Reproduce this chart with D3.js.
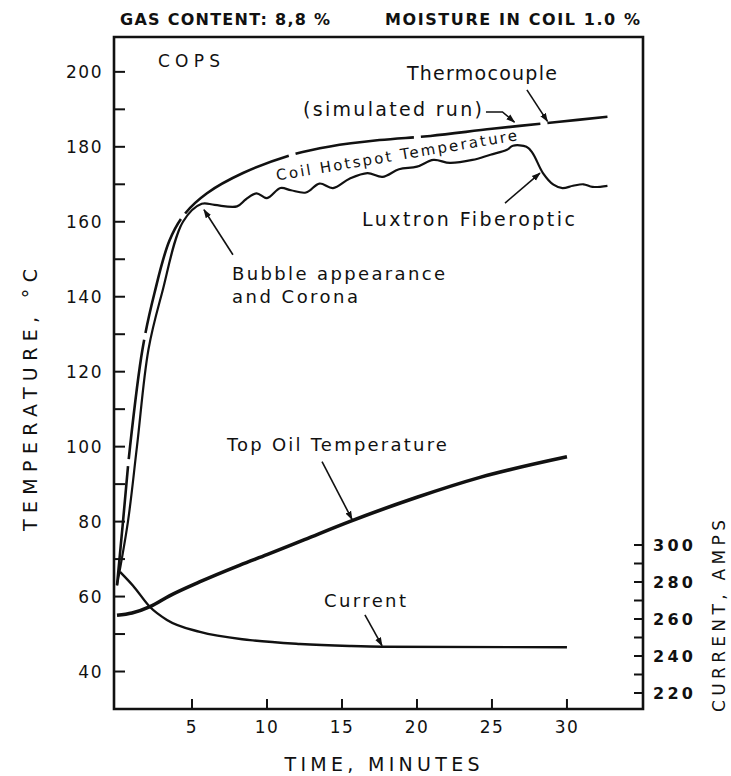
<!DOCTYPE html>
<html>
<head>
<meta charset="utf-8">
<script src="https://cdn.jsdelivr.net/npm/d3@7"></script>
<style>
  body { margin: 0; background: #fff; }
  text { font-family: "DejaVu Sans", "Liberation Sans", sans-serif; fill: #111; }
</style>
</head>
<body>
<div id="chart" style="width:731px;height:776px;"></div>
<script>
// values (time in minutes, temperature in °C, current in A)
const thermoTime = [0, 0.4, 0.87, 1.7, 2.5, 3.5, 4.5, 6.0, 8.4, 11.7, 14.2, 17.5, 20.9, 25, 29.5, 32.7];
const thermoTemp = [63, 80, 100, 126, 141, 155, 162, 167.6, 173, 177.9, 180.1, 181.8, 182.9, 184.8, 186.7, 188];

const luxTime = [0, 0.73, 1.33, 2.1, 3.0, 4.4, 5.65, 6.5, 8.0, 8.6, 9.3, 10.0, 10.9, 11.6, 12.6, 13.5, 14.4, 15.5, 16.7, 17.7, 18.8, 20.0, 21.1, 22.2, 23.7, 24.9, 26.0, 26.4, 27.3, 27.7, 28.4, 29.1, 29.7, 30.4, 31.1, 31.7, 32.7];
const luxTemp = [63, 80, 100, 126, 141, 160, 164.8, 164.5, 164.1, 166.0, 167.6, 166.3, 169.0, 168.4, 167.8, 170.2, 169.0, 171.5, 173.0, 172.0, 174.0, 174.7, 176.5, 175.7, 176.5, 177.9, 179.2, 180.3, 180.0, 178.4, 173.0, 169.9, 169.0, 169.6, 170.0, 169.3, 169.6];

const oilTime = [0, 1, 2.2, 3.5, 5.5, 8.2, 10, 12.5, 15.5, 20, 24.2, 30];
const oilTemp = [55, 55.6, 57.3, 60.2, 63.9, 68.4, 71.2, 75.2, 80.0, 86.5, 91.8, 97.3];

const curTime = [0.2, 1.07, 2.2, 3.33, 5.53, 8.87, 12.2, 15.5, 17.7, 30];
const curAmps = [285.5, 278, 266.5, 259.5, 253, 248.6, 246.5, 245.4, 245, 244.7];

const timeTicks = [5, 10, 15, 20, 25, 30];
const tempTicks = [40, 60, 80, 100, 120, 140, 160, 180, 200];
const tempMinor = [50, 70, 90, 110, 130, 150, 170, 190];
const ampTicks = [220, 240, 260, 280, 300];
const ampMinor = [230, 250, 270, 290];

const width = 731, height = 776;
const plotL = 114, plotR = 643, plotT = 37, plotB = 709;

const svg = d3.select("#chart").append("svg")
    .attr("width", width)
    .attr("height", height);

const x = d3.scaleLinear().domain([-0.2, 35.07]).range([plotL, plotR]);
const y = d3.scaleLinear().domain([30, 209.3]).range([plotB, plotT]);
const yAmp = d3.scaleLinear().domain([220, 300]).range([693, 545]);

// arrowhead
svg.append("defs").append("marker")
    .attr("id", "arrow")
    .attr("viewBox", "0 0 10 10")
    .attr("refX", 9).attr("refY", 5)
    .attr("markerWidth", 9).attr("markerHeight", 9)
    .attr("markerUnits", "userSpaceOnUse")
    .attr("orient", "auto")
  .append("path")
    .attr("d", "M0,1.5 L10,5 L0,8.5 Z")
    .attr("fill", "#111");

// frame: left axis, bottom axis, top and right borders
svg.append("path")
    .attr("d", `M${plotL},${plotT} L${plotR},${plotT} L${plotR},${plotB} L${plotL},${plotB} Z`)
    .attr("fill", "none")
    .attr("stroke", "#111")
    .attr("stroke-width", 2.6);

// temperature axis ticks (inside)
svg.selectAll(".ytick")
    .data(tempTicks.concat(tempMinor))
    .enter().append("line")
    .attr("x1", plotL).attr("x2", plotL + 11)
    .attr("y1", d => y(d)).attr("y2", d => y(d))
    .attr("stroke", "#111").attr("stroke-width", 2);

svg.selectAll(".ylab")
    .data(tempTicks)
    .enter().append("text")
    .attr("x", 103)
    .attr("y", d => y(d) + 6)
    .attr("text-anchor", "end")
    .attr("font-size", 17)
    .attr("letter-spacing", 1.5)
    .text(d => d);

// time axis ticks
svg.selectAll(".xtick")
    .data(timeTicks)
    .enter().append("line")
    .attr("x1", d => x(d)).attr("x2", d => x(d))
    .attr("y1", plotB).attr("y2", plotB - 10)
    .attr("stroke", "#111").attr("stroke-width", 2);

svg.selectAll(".xlab")
    .data(timeTicks)
    .enter().append("text")
    .attr("x", d => x(d))
    .attr("y", 733)
    .attr("text-anchor", "middle")
    .attr("font-size", 17)
    .attr("letter-spacing", 1.5)
    .text(d => d);

// current axis on the right
svg.selectAll(".atick")
    .data(ampTicks.concat(ampMinor))
    .enter().append("line")
    .attr("x1", plotR - 9).attr("x2", plotR)
    .attr("y1", d => yAmp(d)).attr("y2", d => yAmp(d))
    .attr("stroke", "#111").attr("stroke-width", 2);

svg.selectAll(".alab")
    .data(ampTicks)
    .enter().append("text")
    .attr("x", 653)
    .attr("y", d => yAmp(d) + 6)
    .attr("font-size", 16)
    .attr("font-weight", "bold")
    .attr("textLength", 40)
    .text(d => d);

// axis titles
svg.append("text")
    .attr("transform", "translate(37,400) rotate(-90)")
    .attr("text-anchor", "middle")
    .attr("font-size", 19)
    .attr("textLength", 262)
    .text("TEMPERATURE, °C");

svg.append("text")
    .attr("transform", "translate(725,616) rotate(-90)")
    .attr("text-anchor", "middle")
    .attr("font-size", 17)
    .attr("textLength", 192)
    .text("CURRENT, AMPS");

svg.append("text")
    .attr("x", 382).attr("y", 771)
    .attr("text-anchor", "middle")
    .attr("font-size", 19)
    .attr("textLength", 195)
    .text("TIME, MINUTES");

svg.append("text")
    .attr("x", 120).attr("y", 25)
    .attr("font-size", 16).attr("font-weight", "bold")
    .attr("textLength", 210)
    .text("GAS CONTENT: 8,8 %");

svg.append("text")
    .attr("x", 385).attr("y", 25)
    .attr("font-size", 16).attr("font-weight", "bold")
    .attr("textLength", 255)
    .text("MOISTURE IN COIL 1.0 %");

// curves
const tempLine = d3.line()
    .x(d => x(d[0]))
    .y(d => y(d[1]))
    .curve(d3.curveCatmullRom.alpha(0.5));

const smoothLine = d3.line()
    .x(d => x(d[0]))
    .y(d => y(d[1]))
    .curve(d3.curveMonotoneX);

const ampLine = d3.line()
    .x(d => x(d[0]))
    .y(d => yAmp(d[1]))
    .curve(d3.curveMonotoneX);

svg.append("path")
    .datum(d3.zip(thermoTime, thermoTemp))
    .attr("d", tempLine)
    .attr("fill", "none")
    .attr("stroke", "#111")
    .attr("stroke-width", 2.6)
    .attr("stroke-dasharray", "120,7");

svg.append("path")
    .datum(d3.zip(luxTime, luxTemp))
    .attr("d", tempLine)
    .attr("fill", "none")
    .attr("stroke", "#111")
    .attr("stroke-width", 2.2);

svg.append("path")
    .datum(d3.zip(oilTime, oilTemp))
    .attr("d", smoothLine)
    .attr("fill", "none")
    .attr("stroke", "#111")
    .attr("stroke-width", 3.6);

svg.append("path")
    .datum(d3.zip(curTime, curAmps))
    .attr("d", ampLine)
    .attr("fill", "none")
    .attr("stroke", "#111")
    .attr("stroke-width", 2.4);

// annotations
function label(t, temp, str, size, len) {
    svg.append("text")
        .attr("x", x(t)).attr("y", y(temp))
        .attr("font-size", size)
        .attr("textLength", len)
        .text(str);
}
function arrow(pts, scale) {
    svg.append("path")
        .attr("d", d3.line().x(d => x(d[0])).y(d => scale(d[1]))(pts))
        .attr("fill", "none")
        .attr("stroke", "#111")
        .attr("stroke-width", 1.6)
        .attr("marker-end", "url(#arrow)");
}

label(2.73, 201.3, "COPS", 17, 62);
label(19.33, 197.9, "Thermocouple", 19, 150);
label(12.4, 188.3, "(simulated run)", 19, 179);
label(16.33, 158.9, "Luxtron Fiberoptic", 19, 213);
label(7.67, 144.5, "Bubble appearance", 18, 213);
label(7.67, 138.4, "and Corona", 18, 126);
label(7.33, 98.9, "Top Oil Temperature", 18, 220);
label(13.8, 57.2, "Current", 18, 82);

svg.append("text")
    .attr("transform", `translate(${x(10.67)},${y(171.0)}) rotate(-9.5)`)
    .attr("font-size", 15)
    .attr("textLength", 244)
    .text("Coil Hotspot Temperature");

arrow([[24.6, 189.3], [25.7, 189.3], [26.5, 186.6]], y);
arrow([[27.33, 195.2], [28.7, 186.8]], y);
arrow([[25.87, 165], [28.2, 173]], y);
arrow([[7.73, 151.2], [5.8, 163.2]], y);
arrow([[13.67, 96], [15.67, 80.6]], y);
arrow([[16.53, 262.2], [17.67, 245.6]], yAmp);
</script>
</body>
</html>
